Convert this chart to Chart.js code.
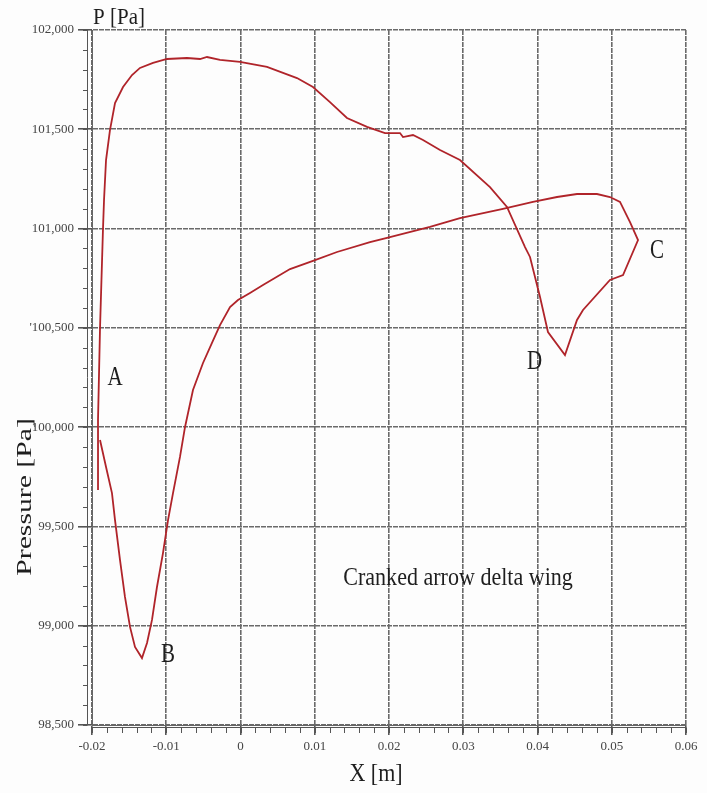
<!DOCTYPE html>
<html>
<head>
<meta charset="utf-8">
<script src="https://cdn.jsdelivr.net/npm/chart.js@4/dist/chart.umd.min.js"></script>
<style>
  html, body { margin: 0; padding: 0; background: #fdfdfd; }
  #wrap { width: 707px; height: 793px; }
</style>
</head>
<body>
<div id="wrap"><canvas id="pressureChart" width="707" height="793"></canvas></div>
<script>
// X position along the wing [m] and pressure [Pa] in drawing order
const xPositions = [
  -0.01919, -0.01919, -0.01919, -0.01892, -0.01852, -0.01838, -0.01811, -0.01758, -0.01690, -0.01582,
  -0.01461, -0.01354, -0.01178, -0.00990, -0.00721, -0.00545, -0.00451, -0.00276, -0.00007, 0.00357,
  0.00761, 0.00976, 0.01205, 0.01434, 0.01704, 0.01946, 0.02148, 0.02189, 0.02323, 0.02458,
  0.02687, 0.02956, 0.03360, 0.03589, 0.03832, 0.03899, 0.04034, 0.04141, 0.04370, 0.04532,
  0.04613, 0.04976, 0.05152, 0.05354, 0.05246, 0.05111, 0.04976, 0.04801, 0.04532, 0.04263,
  0.03939, 0.03535, 0.02956, 0.02552, 0.01973, 0.01744, 0.01300, 0.00976, 0.00667, 0.00303,
  0.00128, -0.00034, -0.00141, -0.00276, -0.00384, -0.00505, -0.00640, -0.00747, -0.00815, -0.00909,
  -0.00976, -0.01044, -0.01125, -0.01192, -0.01259, -0.01327, -0.01421, -0.01488, -0.01556, -0.01623,
  -0.01690, -0.01731, -0.01811, -0.01892
];
const pressures = [
  99683, 99950, 100036, 100499, 100998, 101144, 101345, 101496, 101632, 101713,
  101773, 101809, 101834, 101854, 101859, 101854, 101864, 101849, 101839, 101814,
  101758, 101713, 101637, 101557, 101512, 101481, 101481, 101461, 101471, 101446,
  101396, 101345, 101209, 101109, 100907, 100857, 100655, 100479, 100363, 100540,
  100590, 100741, 100766, 100942, 101033, 101134, 101159, 101174, 101174, 101159,
  101134, 101099, 101053, 101008, 100953, 100932, 100882, 100837, 100796, 100716,
  100676, 100640, 100605, 100514, 100424, 100323, 100187, 100001, 99850, 99668,
  99532, 99366, 99195, 99029, 98913, 98837, 98893, 98994, 99145, 99331,
  99532, 99668, 99799, 99935
];

const xTicks = [-0.02, -0.01, 0, 0.01, 0.02, 0.03, 0.04, 0.05, 0.06];
const xTickLabels = ['-0.02', '-0.01', '0', '0.01', '0.02', '0.03', '0.04', '0.05', '0.06'];
const yTicks = [98500, 99000, 99500, 100000, 100500, 101000, 101500, 102000];
const yTickLabels = ['98,500', '99,000', '99,500', '100,000', "'100,500", '101,000', '101,500', '102,000'];

// point letters placed in data space
const pointLetters = ['A', 'B', 'C', 'D'];
const letterX = [-0.0169, -0.00976, 0.05609, 0.0396];
const letterP = [100247, 98853, 100887, 100330];

const points = xPositions.map((x, i) => ({ x: x, y: pressures[i] }));

const serif = '"Liberation Serif", "DejaVu Serif", serif';

// draws text squeezed/stretched the way the scanned figure looks
function stretchedText(ctx, text, x, y, size, sx, sy, rot) {
    ctx.save();
    ctx.translate(x, y);
    if (rot) ctx.rotate(rot);
    ctx.scale(sx, sy);
    ctx.font = size + 'px ' + serif;
    ctx.fillStyle = '#1e1e1e';
    ctx.textAlign = 'center';
    ctx.textBaseline = 'middle';
    ctx.fillText(text, 0, 0);
    ctx.restore();
}

const decorations = {
    id: 'decorations',
    afterDraw(chart) {
        const ctx = chart.ctx;
        const xs = chart.scales.x, ys = chart.scales.y;
        const area = chart.chartArea;

        // offset axis lines with minor ticks
        ctx.save();
        ctx.strokeStyle = '#555';
        ctx.lineWidth = 1;
        ctx.beginPath();
        ctx.moveTo(area.left - 4.5, area.top);
        ctx.lineTo(area.left - 4.5, area.bottom);
        ctx.moveTo(area.left, area.bottom + 2.5);
        ctx.lineTo(area.right, area.bottom + 2.5);
        for (let v = 98500; v <= 102000; v += 100) {
            const py = Math.round(ys.getPixelForValue(v)) + 0.5;
            ctx.moveTo(area.left - 4.5, py);
            ctx.lineTo(area.left - 9, py);
        }
        for (let k = 0; k <= 40; k++) {
            const px = Math.round(xs.getPixelForValue(-0.02 + k * 0.002)) + 0.5;
            ctx.moveTo(px, area.bottom + 2.5);
            ctx.lineTo(px, area.bottom + 8);
        }
        ctx.stroke();
        ctx.restore();

        // titles
        stretchedText(ctx, 'P [Pa]', area.left + 27, area.top - 12, 21, 1, 1.1, 0);
        stretchedText(ctx, 'Pressure [Pa]', 25, 497, 22, 1.35, 1, -Math.PI / 2);
        stretchedText(ctx, 'X [m]', (area.left + area.right) / 2 - 13, 775, 22, 1, 1.1, 0);
        stretchedText(ctx, 'Cranked arrow delta wing', xs.getPixelForValue(0.0293), ys.getPixelForValue(99235), 21, 1.05, 1.15, 0);

        pointLetters.forEach((t, i) => {
            stretchedText(ctx, t, xs.getPixelForValue(letterX[i]), ys.getPixelForValue(letterP[i]), 21, 1, 1.3, 0);
        });
    }
};

new Chart(document.getElementById('pressureChart').getContext('2d'), {
    type: 'scatter',
    data: {
        datasets: [{
            label: 'Pressure',
            data: points,
            showLine: true,
            borderColor: '#b0242a',
            borderWidth: 1.8,
            pointRadius: 0,
            tension: 0
        }]
    },
    options: {
        responsive: false,
        animation: false,
        layout: { padding: { left: 0, right: 21, top: 30, bottom: 0 } },
        plugins: {
            legend: { display: false },
            tooltip: { enabled: false }
        },
        scales: {
            x: {
                type: 'linear',
                min: -0.02,
                max: 0.06,
                afterBuildTicks: (s) => { s.ticks = xTicks.map(v => ({ value: v })); },
                afterFit: (s) => { s.height = 68; },
                ticks: {
                    callback: (v, i) => xTickLabels[i],
                    padding: 4,
                    maxRotation: 0,
                    autoSkip: false,
                    color: '#444',
                    font: { family: serif, size: 13 }
                },
                grid: { color: '#6a6a6a', lineWidth: 1.6, tickLength: 10, tickColor: '#555' },
                border: { display: true, color: '#666', dash: [5, 1] }
            },
            y: {
                type: 'linear',
                min: 98500,
                max: 102000,
                afterBuildTicks: (s) => { s.ticks = yTicks.map(v => ({ value: v })); },
                afterFit: (s) => { s.width = 92; },
                ticks: {
                    callback: (v, i) => yTickLabels[i],
                    padding: 4,
                    autoSkip: false,
                    color: '#444',
                    font: { family: serif, size: 13 }
                },
                grid: { color: '#6a6a6a', lineWidth: 1.6, tickLength: 14, tickColor: '#555' },
                border: { display: true, color: '#666', dash: [5, 1] }
            }
        }
    },
    plugins: [decorations]
});
</script>
</body>
</html>
